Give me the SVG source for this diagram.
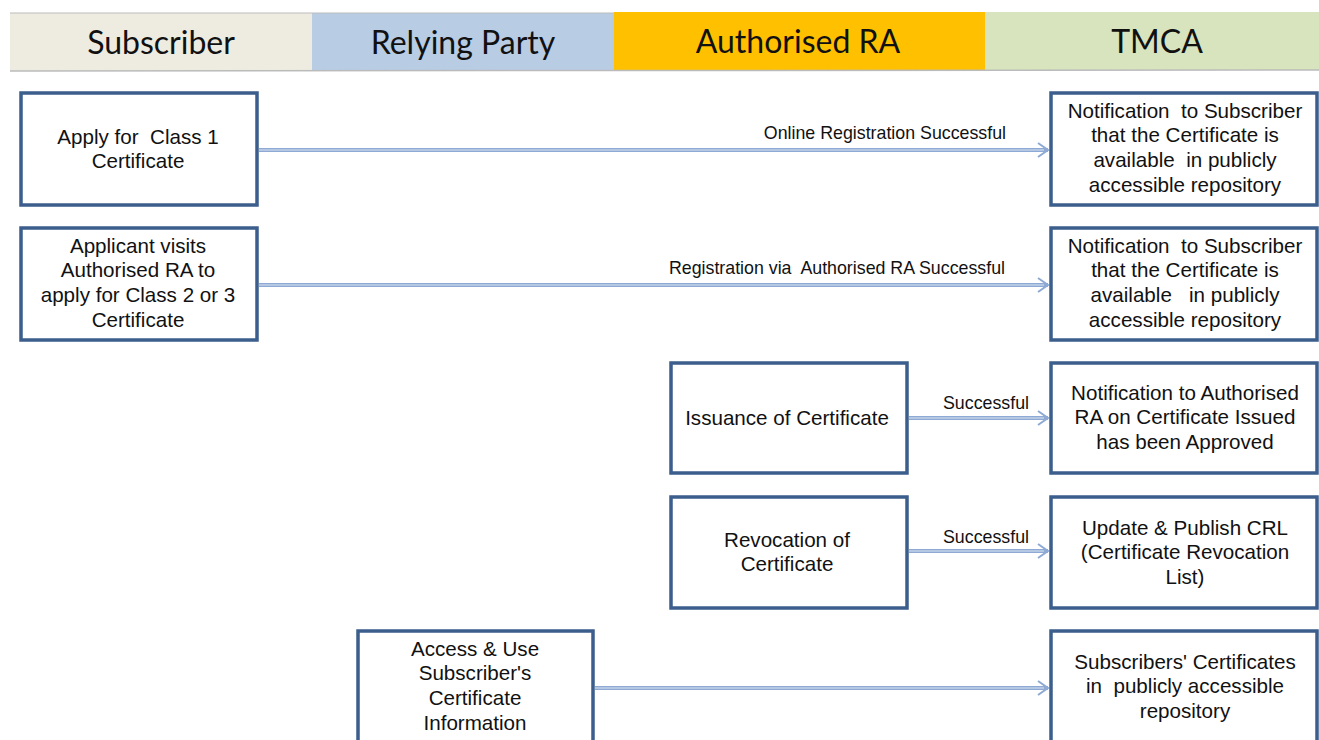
<svg xmlns="http://www.w3.org/2000/svg" width="1319" height="740" viewBox="0 0 1319 740">
<defs>
<marker id="arr" markerWidth="16" markerHeight="16" refX="13" refY="8" orient="auto" markerUnits="userSpaceOnUse">
<path d="M3,1 L13,8 L3,15" fill="none" stroke="#8DA9D4" stroke-width="2"/>
</marker>
</defs>
<style>
.band{font-family:Lato,"Open Sans",sans-serif;font-size:32px;fill:#111;text-anchor:middle}
.box{fill:#fff;stroke:#3B5E8C;stroke-width:3.5}
.t{font-family:"Liberation Sans",Arial,sans-serif;font-size:20.6px;fill:#111;text-anchor:middle;white-space:pre}
.lbl{font-family:"Liberation Sans",Arial,sans-serif;font-size:17.8px;fill:#111;white-space:pre}
.c1{fill:none;stroke:#8DA9D4;stroke-width:4}
.c2{fill:none;stroke:#DCE6F2;stroke-width:1}
</style>
<rect width="1319" height="740" fill="#fff"/>
<g id="header">
<rect x="10" y="13" width="302" height="58" fill="#EEECE1"/>
<rect x="312" y="13" width="302" height="58" fill="#B8CCE4"/>
<rect x="614" y="12" width="371" height="58" fill="#FFC000"/>
<rect x="985" y="12" width="334" height="58" fill="#D7E4BD"/>
<line x1="10" y1="71" x2="1319" y2="70" stroke="#BBBBBB" stroke-width="1.5"/>
<line x1="10" y1="13" x2="614" y2="13" stroke="#BBBBBB" stroke-width="1"/>
<text class="band" x="161" y="54">Subscriber</text>
<text class="band" x="463" y="54">Relying Party</text>
<text class="band" x="798" y="53">Authorised RA</text>
<text class="band" x="1157" y="53">TMCA</text>
</g>
<g id="connectors">
<line class="c1" x1="259" y1="150" x2="1048" y2="150" marker-end="url(#arr)"/><line class="c2" x1="259" y1="150" x2="1044" y2="150"/>
<line class="c1" x1="259" y1="285" x2="1048" y2="285" marker-end="url(#arr)"/><line class="c2" x1="259" y1="285" x2="1044" y2="285"/>
<line class="c1" x1="909" y1="418" x2="1048" y2="418" marker-end="url(#arr)"/><line class="c2" x1="909" y1="418" x2="1044" y2="418"/>
<line class="c1" x1="909" y1="551" x2="1048" y2="551" marker-end="url(#arr)"/><line class="c2" x1="909" y1="551" x2="1044" y2="551"/>
<line class="c1" x1="595" y1="688" x2="1048" y2="688" marker-end="url(#arr)"/><line class="c2" x1="595" y1="688" x2="1044" y2="688"/>
<text class="lbl" x="1006" y="139" text-anchor="end">Online Registration Successful</text>
<text class="lbl" x="1005" y="274" text-anchor="end">Registration via  Authorised RA Successful</text>
<text class="lbl" x="986" y="409" text-anchor="middle">Successful</text>
<text class="lbl" x="986" y="543" text-anchor="middle">Successful</text>
</g>
<g id="n1"><rect class="box" x="21" y="93" width="236" height="112"/>
<text class="t" x="138" y="144">Apply for  Class 1</text><text class="t" x="138" y="168">Certificate</text></g>
<g id="n2"><rect class="box" x="21" y="228" width="236" height="112"/>
<text class="t" x="138" y="253">Applicant visits</text><text class="t" x="138" y="277">Authorised RA to</text><text class="t" x="138" y="302">apply for Class 2 or 3</text><text class="t" x="138" y="327">Certificate</text></g>
<g id="n3"><rect class="box" x="1051" y="93" width="266" height="112"/>
<text class="t" x="1185" y="118">Notification  to Subscriber</text><text class="t" x="1185" y="142">that the Certificate is</text><text class="t" x="1185" y="167">available  in publicly</text><text class="t" x="1185" y="192">accessible repository</text></g>
<g id="n4"><rect class="box" x="1051" y="228" width="266" height="112"/>
<text class="t" x="1185" y="253">Notification  to Subscriber</text><text class="t" x="1185" y="277">that the Certificate is</text><text class="t" x="1185" y="302">available   in publicly</text><text class="t" x="1185" y="327">accessible repository</text></g>
<g id="n5"><rect class="box" x="671" y="363" width="236" height="110"/>
<text class="t" x="787" y="425">Issuance of Certificate</text></g>
<g id="n6"><rect class="box" x="1051" y="363" width="266" height="110"/>
<text class="t" x="1185" y="400">Notification to Authorised</text><text class="t" x="1185" y="424">RA on Certificate Issued</text><text class="t" x="1185" y="449">has been Approved</text></g>
<g id="n7"><rect class="box" x="671" y="497" width="236" height="111"/>
<text class="t" x="787" y="547">Revocation of</text><text class="t" x="787" y="571">Certificate</text></g>
<g id="n8"><rect class="box" x="1051" y="497" width="266" height="111"/>
<text class="t" x="1185" y="535">Update &amp; Publish CRL</text><text class="t" x="1185" y="559">(Certificate Revocation</text><text class="t" x="1185" y="584">List)</text></g>
<g id="n9"><rect class="box" x="358" y="631" width="235" height="120"/>
<text class="t" x="475" y="656">Access &amp; Use</text><text class="t" x="475" y="680">Subscriber's</text><text class="t" x="475" y="705">Certificate</text><text class="t" x="475" y="730">Information</text></g>
<g id="n10"><rect class="box" x="1051" y="631" width="266" height="120"/>
<text class="t" x="1185" y="669">Subscribers' Certificates</text><text class="t" x="1185" y="693">in  publicly accessible</text><text class="t" x="1185" y="718">repository</text></g>
</svg>
